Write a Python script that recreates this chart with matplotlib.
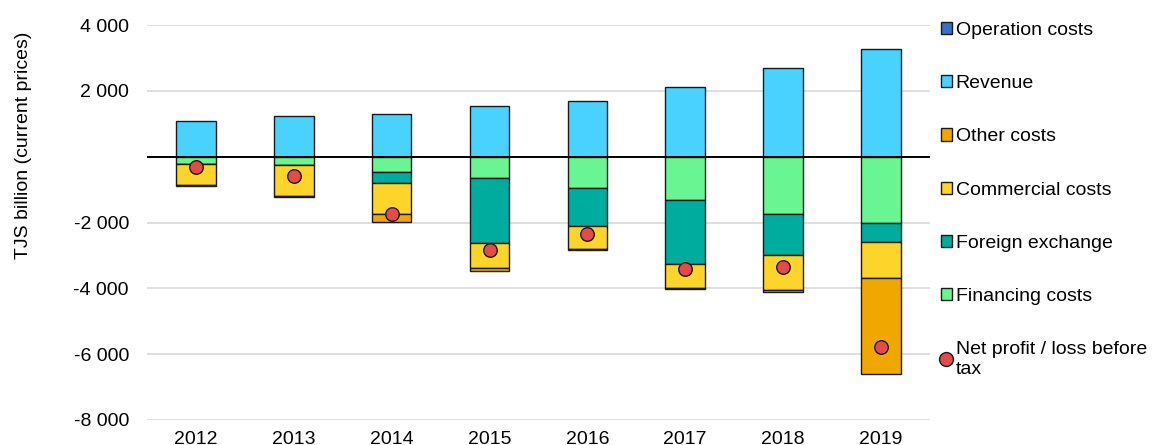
import matplotlib.pyplot as plt
import numpy as np

years = ["2012", "2013", "2014", "2015", "2016", "2017", "2018", "2019"]
revenue = [1090, 1230, 1310, 1550, 1690, 2110, 2680, 3260]
operation_costs = [0, 0, 0, 0, 0, 0, 0, 0]
financing = [-220, -240, -470, -640, -950, -1310, -1750, -2000]
fx = [0, 0, -320, -1990, -1150, -1960, -1250, -580]
commercial = [-640, -970, -940, -740, -700, -730, -1050, -1120]
other = [-40, -10, -240, -90, -30, -30, -60, -2910]
net_profit = [-320, -590, -1730, -2830, -2340, -3400, -3340, -5770]

plt.rcParams['font.family'] = ['Liberation Sans', 'DejaVu Sans']

fig = plt.figure(figsize=(11.53, 4.45), dpi=100)
ax = fig.add_axes([0.1275, 0.0562, 0.679, 0.8876])

x = np.arange(len(years))
w = 0.405
ec = '#1a1a1a'

ax.bar(x, operation_costs, w, color='#3A6FC4', edgecolor=ec, linewidth=1, zorder=3)
ax.bar(x, revenue, w, color='#4AD2FF', edgecolor=ec, linewidth=1, zorder=3)
bottom = np.zeros(len(years))
neg_series = [(financing, '#69F591'), (fx, '#00AC9E'),
              (commercial, '#FDD42A'), (other, '#F0A800')]
for vals, col in neg_series:
    ax.bar(x, vals, w, bottom=bottom, color=col, edgecolor=ec, linewidth=1, zorder=3)
    bottom = bottom + np.array(vals)

ax.scatter(x, net_profit, s=95, color='#E34B4B', edgecolor=ec, linewidth=1, zorder=5)
ax.axhline(0, color='black', linewidth=1.4, zorder=4)

ax.set_xlim(-0.5, len(years) - 0.5)
ax.set_ylim(-8000, 4000)
ax.set_yticks(np.arange(-8000, 4001, 2000))
ax.set_yticklabels([f"{v:,}".replace(",", " ") if v != 0 else "" for v in range(-8000, 4001, 2000)])
ax.set_xticks(x)
ax.set_xticklabels(years)
ax.tick_params(axis='both', length=0, labelsize=14, colors='black')
ax.tick_params(axis='y', pad=13)
ax.tick_params(axis='x', pad=8)
ax.grid(axis='y', color='#D9D9D9', linewidth=1.2, zorder=0)
for s in ax.spines.values():
    s.set_visible(False)
ax.set_ylabel("TJS billion (current prices)", fontsize=14)
ax.yaxis.set_label_coords(-0.147, 0.696)

handles = [
    plt.Rectangle((0, 0), 1, 1, facecolor='#3A6FC4', edgecolor=ec),
    plt.Rectangle((0, 0), 1, 1, facecolor='#4AD2FF', edgecolor=ec),
    plt.Rectangle((0, 0), 1, 1, facecolor='#F0A800', edgecolor=ec),
    plt.Rectangle((0, 0), 1, 1, facecolor='#FDD42A', edgecolor=ec),
    plt.Rectangle((0, 0), 1, 1, facecolor='#00AC9E', edgecolor=ec),
    plt.Rectangle((0, 0), 1, 1, facecolor='#69F591', edgecolor=ec),
    plt.Line2D([], [], marker='o', linestyle='', markersize=10,
               markerfacecolor='#E34B4B', markeredgecolor=ec),
]
labels = ["Operation costs", "Revenue", "Other costs", "Commercial costs",
          "Foreign exchange", "Financing costs", "Net profit / loss before\ntax"]
fig.legend(handles, labels, loc='upper left', bbox_to_anchor=(0.809, 0.968),
           frameon=False, fontsize=14, handlelength=0.58, handleheight=0.58,
           handletextpad=0.2, labelspacing=1.86, borderaxespad=0)

fig.savefig("out.png", dpi=100)
